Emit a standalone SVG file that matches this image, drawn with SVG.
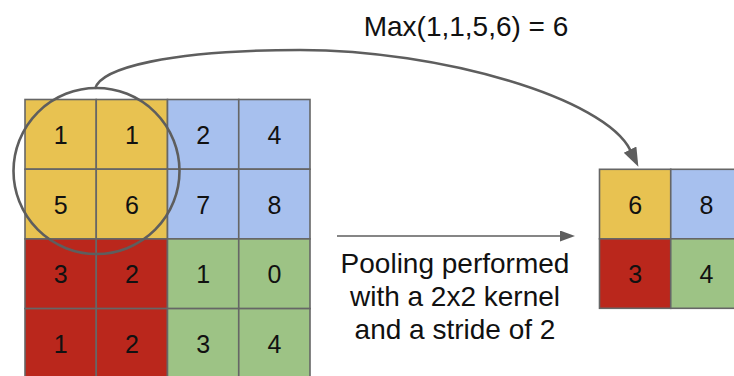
<svg xmlns="http://www.w3.org/2000/svg" width="734" height="376" viewBox="0 0 734 376">
  <defs>
    <style>
      .cell { stroke: #666666; stroke-width: 1.6; }
      .y { fill: #E8C251; }
      .b { fill: #A7C0EE; }
      .r { fill: #BA271C; }
      .g { fill: #9DC385; }
      .num { font-family: "Liberation Sans", Arial, sans-serif; font-size: 25px; fill: #111111; text-anchor: middle; }
      .label { font-family: "Liberation Sans", Arial, sans-serif; font-size: 28px; fill: #111111; text-anchor: middle; }
      .conn { fill: none; stroke: #5E5E5E; }
    </style>
    <marker id="headBig" markerUnits="userSpaceOnUse" markerWidth="20" markerHeight="16" refX="1" refY="7" orient="auto">
      <path d="M0,0 L19,7 L0,14 Z" fill="#5E5E5E"/>
    </marker>
    <marker id="headSmall" markerUnits="userSpaceOnUse" markerWidth="16" markerHeight="12" refX="1" refY="5.5" orient="auto">
      <path d="M0,0 L15,5.5 L0,11 Z" fill="#5E5E5E"/>
    </marker>
  </defs>

  <rect width="734" height="376" fill="#FFFFFF"/>

  <!-- 4x4 input feature map -->
  <g id="input-grid">
    <rect class="cell y" x="25" y="99.5" width="71.25" height="69.7"/>
    <rect class="cell y" x="96.25" y="99.5" width="71.25" height="69.7"/>
    <rect class="cell b" x="167.5" y="99.5" width="71.25" height="69.7"/>
    <rect class="cell b" x="238.75" y="99.5" width="71.25" height="69.7"/>
    <rect class="cell y" x="25" y="169.2" width="71.25" height="69.7"/>
    <rect class="cell y" x="96.25" y="169.2" width="71.25" height="69.7"/>
    <rect class="cell b" x="167.5" y="169.2" width="71.25" height="69.7"/>
    <rect class="cell b" x="238.75" y="169.2" width="71.25" height="69.7"/>
    <rect class="cell r" x="25" y="238.9" width="71.25" height="69.7"/>
    <rect class="cell r" x="96.25" y="238.9" width="71.25" height="69.7"/>
    <rect class="cell g" x="167.5" y="238.9" width="71.25" height="69.7"/>
    <rect class="cell g" x="238.75" y="238.9" width="71.25" height="69.7"/>
    <rect class="cell r" x="25" y="308.6" width="71.25" height="69.7"/>
    <rect class="cell r" x="96.25" y="308.6" width="71.25" height="69.7"/>
    <rect class="cell g" x="167.5" y="308.6" width="71.25" height="69.7"/>
    <rect class="cell g" x="238.75" y="308.6" width="71.25" height="69.7"/>

    <text class="num" x="60.6" y="143.8">1</text>
    <text class="num" x="131.9" y="143.8">1</text>
    <text class="num" x="203.1" y="143.8">2</text>
    <text class="num" x="274.4" y="143.8">4</text>
    <text class="num" x="60.6" y="213.5">5</text>
    <text class="num" x="131.9" y="213.5">6</text>
    <text class="num" x="203.1" y="213.5">7</text>
    <text class="num" x="274.4" y="213.5">8</text>
    <text class="num" x="60.6" y="283.2">3</text>
    <text class="num" x="131.9" y="283.2">2</text>
    <text class="num" x="203.1" y="283.2">1</text>
    <text class="num" x="274.4" y="283.2">0</text>
    <text class="num" x="60.6" y="352.9">1</text>
    <text class="num" x="131.9" y="352.9">2</text>
    <text class="num" x="203.1" y="352.9">3</text>
    <text class="num" x="274.4" y="352.9">4</text>
  </g>

  <!-- 2x2 pooling window highlight -->
  <g id="window">
    <circle cx="96.5" cy="171" r="83" fill="none" stroke="#5E5E5E" stroke-width="2.6"/>
  </g>

  <!-- 2x2 pooled output -->
  <g id="output-grid">
    <rect class="cell y" x="599.5" y="169.3" width="71.25" height="69.5"/>
    <rect class="cell b" x="670.75" y="169.3" width="71.25" height="69.5"/>
    <rect class="cell r" x="599.5" y="238.8" width="71.25" height="69.5"/>
    <rect class="cell g" x="670.75" y="238.8" width="71.25" height="69.5"/>
    <text class="num" x="635.1" y="213.5">6</text>
    <text class="num" x="706.4" y="213.5">8</text>
    <text class="num" x="635.1" y="283">3</text>
    <text class="num" x="706.4" y="283">4</text>
  </g>

  <g id="max-label">
    <text class="label" x="466" y="36">Max(1,1,5,6) = 6</text>
  </g>

  <g id="pool-label">
    <text class="label" x="455" y="273">Pooling performed</text>
    <text class="label" x="455" y="306">with a 2x2 kernel</text>
    <text class="label" x="455" y="339">and a stride of 2</text>
  </g>

  <!-- connectors -->
  <g id="connectors">
    <path class="conn" stroke-width="2.6" d="M95,89 C100,68 170,50 300,50 C440,50 605,98 630.5,150.5" marker-end="url(#headBig)"/>
    <path class="conn" stroke-width="1.6" d="M337,236 L561,236" marker-end="url(#headSmall)"/>
  </g>
</svg>
